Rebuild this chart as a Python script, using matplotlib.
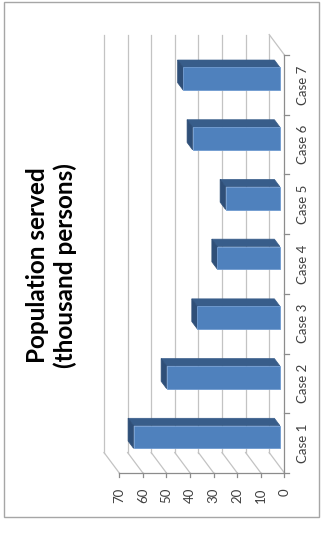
import matplotlib
matplotlib.use("Agg")
import matplotlib.pyplot as plt
from matplotlib.patches import Polygon, Rectangle

# ---- data ----
cases = ["Case 1", "Case 2", "Case 3", "Case 4", "Case 5", "Case 6", "Case 7"]
population = [62, 48, 35, 26.5, 23, 37, 41]          # thousand persons
value_ticks = [0, 10, 20, 30, 40, 50, 60, 70]
title_text = "Population served\n(thousand persons)"

plt.rcParams["font.family"] = ["Lato", "DejaVu Sans"]

# ---- oblique 3-D layout (chart is turned a quarter turn) ----
DEPTH_V = 6.48      # full depth offset along the value axis
DEPTH_C = 0.343     # full depth offset along the category axis
BAR_FRONT = 0.30    # bar front plane, as a fraction of the depth
BAR_BACK = 0.66     # bar back plane
BAR_WIDTH = 0.38

GRID = "#C3C3C3"
AXIS = "#8C8C8C"
FRONT = "#4F81BD"
TOP = "#385D8A"
CAP = "#2F4F78"
LABEL = "#404040"

fig = plt.figure(figsize=(3.21, 5.36), dpi=100)
ax = fig.add_axes([0, 0, 1, 1])
ax.set_xlim(120.55, -15.47)
ax.set_ylim(-0.555, 8.4215)
ax.axis("off")

n = len(cases)
c_lo, c_hi = 0.5, n + 0.5
vmax = value_ticks[-1]


def shift(v, c, d):
    return (v + d * DEPTH_V, c + d * DEPTH_C)


# back wall gridlines and side-wall diagonals
for v in value_ticks:
    bx0, by0 = shift(v, c_lo, 1)
    bx1, by1 = shift(v, c_hi, 1)
    ax.plot([bx0, bx1], [by0, by1], color=GRID, lw=0.9, zorder=1)
    ax.plot([bx0, v], [by0, c_lo], color=GRID, lw=0.9, zorder=1)

# far edge of the floor
fx, fy = shift(0, c_hi, 1)
ax.plot([fx, 0], [fy, c_hi], color=GRID, lw=0.9, zorder=1)

# front axes with tick marks
ax.plot([0, 0], [c_lo, c_hi], color=AXIS, lw=0.9, zorder=2)
ax.plot([0, vmax], [c_lo, c_lo], color=AXIS, lw=0.9, zorder=2)
for k in range(n + 1):
    ax.plot([0, -2.1], [c_lo + k, c_lo + k], color=AXIS, lw=0.9, zorder=2)
for v in value_ticks:
    ax.plot([v, v], [c_lo, c_lo - 0.07], color=AXIS, lw=0.9, zorder=2)

# bars
for i, (name, val) in enumerate(zip(cases, population), start=1):
    lo, hi = i - BAR_WIDTH / 2, i + BAR_WIDTH / 2
    f00 = shift(0, lo, BAR_FRONT)
    f01 = shift(0, hi, BAR_FRONT)
    f10 = shift(val, lo, BAR_FRONT)
    f11 = shift(val, hi, BAR_FRONT)
    b01 = shift(0, hi, BAR_BACK)
    b10 = shift(val, lo, BAR_BACK)
    b11 = shift(val, hi, BAR_BACK)
    ax.add_patch(Polygon([f01, f11, b11, b01], closed=True, fc=TOP,
                         ec=TOP, lw=0.5, zorder=3))
    ax.add_patch(Polygon([f10, f11, b11, b10], closed=True, fc=CAP,
                         ec=CAP, lw=0.5, zorder=3))
    ax.add_patch(Polygon([f00, f01, f11, f10], closed=True, fc=FRONT,
                         ec="#6F9AD0", lw=0.6, zorder=4))
    ax.text(-5.4, i, name, rotation=90, ha="left", va="center",
            fontsize=9.5, color=LABEL)

# value tick labels
for v in value_ticks:
    ax.text(v, 0.25, str(v), rotation=90, ha="center", va="top",
            fontsize=9.5, color=LABEL)

# title
ax.text(98.7, 3.98, title_text, rotation=90, ha="center", va="center",
        multialignment="center", fontsize=17.5, fontweight="bold",
        color="black", linespacing=1.2)

# chart-area frame
fig.patches.append(Rectangle((3.5 / 321, 1 - 517 / 536),
                             (319 - 3.5) / 321, (517 - 1.5) / 536,
                             transform=fig.transFigure, fill=False,
                             ec="#A6A6A6", lw=1.0))

fig.savefig("out.png", dpi=100)
